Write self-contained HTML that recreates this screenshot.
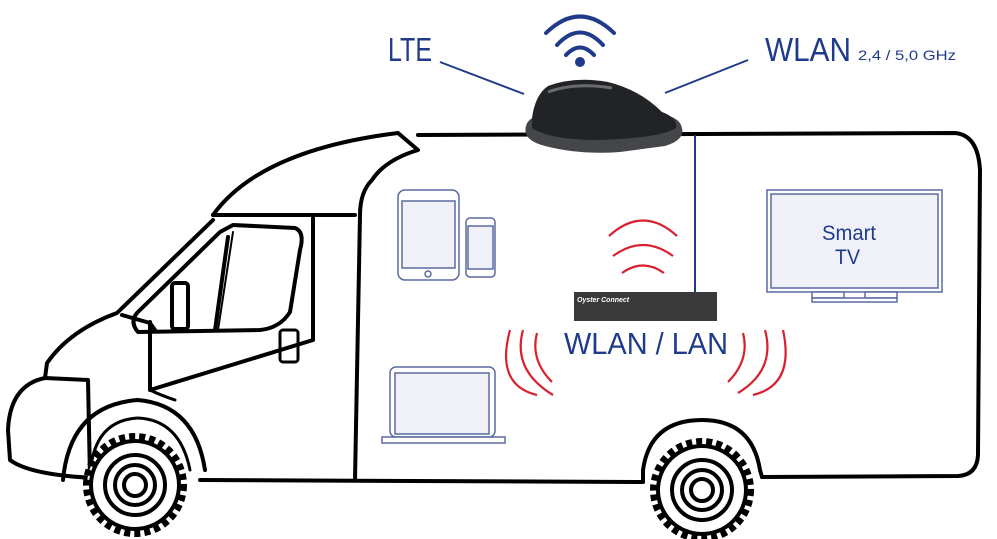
<!DOCTYPE html>
<html><head><meta charset="utf-8"><style>
html,body{margin:0;padding:0;background:#fff;width:997px;height:539px;overflow:hidden}
svg{display:block}
.t{font-family:"Liberation Sans",sans-serif;fill:#1f3a8a}
</style></head><body>
<svg width="997" height="539" viewBox="0 0 997 539" xmlns="http://www.w3.org/2000/svg">
<g fill="none" stroke="#000" stroke-width="4" stroke-linejoin="round" stroke-linecap="round">
<path d="M418 135 L955 133 Q978 135 980 170 L978 455 Q977 475 958 476 L762 477"/>
<path d="M643 482 L643 470 Q650 420 702 420 Q752 420 760 470 L762 477"/>
<path d="M200 480 L643 482"/>
<path d="M213 215 Q260 150 398 133 L418 150 Q385 160 372 180 Q360 192 360 215 L355 480"/>
<path d="M213 215 L355 215"/>
<path d="M213 220 L117 313 Q70 330 47 363 L45 378"/>
<path d="M45 378 Q10 385 8 430 L10 460 Q30 475 95 478"/>
<path d="M45 378 L88 380 L90 478"/>
<path d="M122 315 L150 323 L155 330"/>
<path d="M150 322 L150 390"/>
<path d="M150 390 L313 340 L313 218"/>
<path d="M233 225 L295 228 Q305 232 300 250 L290 312 Q280 328 260 330 L138 332 Q128 320 140 310 L220 232 Z"/>
<path d="M228 237 L215 330"/>
<path d="M233 232 L218 330" stroke-width="2"/>
<rect x="172" y="283" width="16" height="46" rx="3"/>
<rect x="280" y="330" width="18" height="32" rx="3" stroke-width="3"/>
<path d="M63 480 Q70 405 138 400 Q195 405 205 470"/>
<path d="M92 460 Q100 420 138 418 Q180 420 190 470" stroke-width="3"/>
<path d="M150 390 Q160 395 175 400" stroke-width="3"/>
</g>
<g fill="#fff" stroke="#000" stroke-width="4">
<circle cx="135" cy="485" r="48" stroke-dasharray="6 4" stroke-width="8"/>
<circle cx="135" cy="485" r="44"/>
<circle cx="135" cy="485" r="30"/>
<circle cx="135" cy="485" r="20"/>
<circle cx="135" cy="485" r="11"/>
<circle cx="702" cy="490" r="48" stroke-dasharray="6 4" stroke-width="8"/>
<circle cx="702" cy="490" r="44"/>
<circle cx="702" cy="490" r="30"/>
<circle cx="702" cy="490" r="20"/>
<circle cx="702" cy="490" r="11"/>
</g>
<g fill="#eff0f8" stroke="#5a6aa0" stroke-width="1.5">
<rect x="398" y="190" width="61" height="90" rx="7" fill="#fff"/>
<rect x="402" y="201" width="53" height="67"/>
<circle cx="428" cy="274" r="3" fill="#fff"/>
<rect x="466" y="218" width="29" height="59" rx="4" fill="#fff"/>
<rect x="468" y="226" width="25" height="43"/>
<rect x="390" y="367" width="105" height="70" rx="6" fill="#fff"/>
<rect x="395" y="373" width="94" height="61"/>
<rect x="382" y="437" width="123" height="6" fill="#fff"/>
<rect x="767" y="190" width="175" height="102" fill="#fff"/>
<rect x="771" y="194" width="167" height="94"/>
<rect x="812" y="292" width="32" height="6" fill="#fff"/>
<rect x="865" y="292" width="32" height="6" fill="#fff"/>
<rect x="812" y="298" width="85" height="4" fill="#fff"/>
</g>
<text x="822" y="240" class="t" font-size="21" textLength="54" lengthAdjust="spacingAndGlyphs">Smart</text>
<text x="835" y="264" class="t" font-size="21" textLength="25" lengthAdjust="spacingAndGlyphs">TV</text>
<line x1="695" y1="135" x2="695" y2="292" stroke="#1f3a8a" stroke-width="2"/>
<rect x="574" y="292" width="143" height="29" fill="#3a3a3a"/>
<text x="577" y="302" font-family="Liberation Sans,sans-serif" font-size="7" font-style="italic" font-weight="bold" fill="#fff">Oyster Connect</text>
<!-- antenna -->
<path d="M526 126 Q522 140 545 146 Q580 155 620 152 L665 146 Q685 140 682 128 Q680 118 665 115 L540 115 Q528 118 526 126 Z" fill="#45464a"/>
<path d="M532 118 Q535 95 548 86 Q575 76 608 82 Q640 90 662 112 Q678 118 676 128 Q660 138 600 140 Q550 140 532 128 Z" fill="#222326"/>
<path d="M548 92 Q575 82 612 88" stroke="#6a6b70" stroke-width="3" fill="none"/>
<text x="388" y="61" class="t" font-size="33" textLength="44" lengthAdjust="spacingAndGlyphs">LTE</text>
<text x="765" y="61" class="t" font-size="33" textLength="86" lengthAdjust="spacingAndGlyphs">WLAN</text>
<text x="858" y="60" class="t" font-size="14" textLength="98" lengthAdjust="spacingAndGlyphs">2,4 / 5,0 GHz</text>
<g stroke="#1f3a8a" stroke-width="2" fill="none">
<line x1="440" y1="62" x2="524" y2="94"/>
<line x1="665" y1="93" x2="748" y2="60"/>
</g>
<g stroke="#1f3a8a" stroke-width="4" fill="none" stroke-linecap="round">
<path d="M546 33 Q580 0 614 33"/>
<path d="M557 45 Q580 20 603 45"/>
<path d="M566 55 Q580 40 594 55"/>
</g>
<circle cx="580" cy="62" r="5" fill="#1f3a8a"/>
<g stroke="#d92030" stroke-width="2.2" fill="none">
<path d="M609 236 Q643 205 677 236"/>
<path d="M613 256 Q643 234 673 256"/>
<path d="M622 273 Q643 258 664 273"/>
<path d="M537 333 Q530 360 552 382"/>
<path d="M523 330 Q512 370 553 395"/>
<path d="M510 330 Q495 385 537 395"/>
<path d="M743 333 Q750 360 728 382"/>
<path d="M765 330 Q776 370 738 393"/>
<path d="M783 330 Q795 385 753 395"/>
</g>
<text x="564" y="354" class="t" font-size="31" textLength="164" lengthAdjust="spacingAndGlyphs">WLAN / LAN</text>
</svg>
</body></html>
